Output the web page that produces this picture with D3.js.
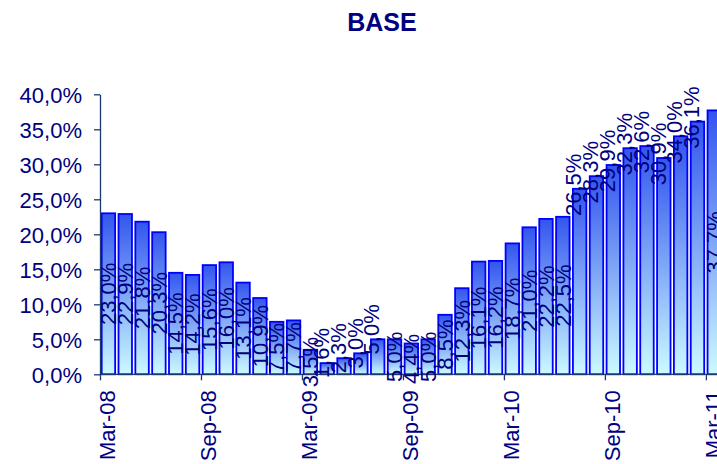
<!DOCTYPE html>
<html>
<head>
<meta charset="utf-8">
<script src="https://cdn.jsdelivr.net/npm/d3@7"></script>
<style>
  body { margin: 0; background: #fff; }
  svg { display: block; }
</style>
</head>
<body>
<div id="chart"></div>
<script>
// Monthly categories, Mar-08 .. Mar-11
const months = [
    "Mar-08", "Apr-08", "May-08", "Jun-08", "Jul-08", "Aug-08", "Sep-08", "Oct-08", "Nov-08", "Dec-08",
    "Jan-09", "Feb-09", "Mar-09", "Apr-09", "May-09", "Jun-09", "Jul-09", "Aug-09", "Sep-09", "Oct-09",
    "Nov-09", "Dec-09", "Jan-10", "Feb-10", "Mar-10", "Apr-10", "May-10", "Jun-10", "Jul-10", "Aug-10",
    "Sep-10", "Oct-10", "Nov-10", "Dec-10", "Jan-11", "Feb-11", "Mar-11"
];

// Values in percent
const values = [
    23.0, 22.9, 21.8, 20.3, 14.5, 14.2, 15.6, 16.0, 13.1, 10.9,
    7.5, 7.7, 3.5, 1.6, 2.3, 3.0, 5.0, 5.0, 4.4, 5.0,
    8.5, 12.3, 16.1, 16.2, 18.7, 21.0, 22.2, 22.5, 26.5, 28.3,
    29.9, 32.3, 32.6, 30.9, 34.0, 36.1, 37.7
];

// Axis tick labels
const xTickLabels = ["Mar-08", "Sep-08", "Mar-09", "Sep-09", "Mar-10", "Sep-10", "Mar-11"];
const yTickValues = [0, 5, 10, 15, 20, 25, 30, 35, 40];

const title = "BASE";

function createBarChart(months, values, dims, d3) {
    const { width, height, left, top, bottom, step } = dims;

    const navy = "#000080";
    const axisColor = "#1c3a6e";
    const fmt = v => v.toFixed(1).replace(".", ",") + "%";

    const svg = d3.create("svg")
        .attr("width", width)
        .attr("height", height)
        .attr("viewBox", [0, 0, width, height])
        .style("font-family", "'Liberation Sans', Arial, sans-serif");

    svg.append("rect").attr("width", width).attr("height", height).attr("fill", "#fff");

    // per-bar vertical gradient, blue on top fading to light cyan
    const grad = svg.append("defs").append("linearGradient")
        .attr("id", "barGrad")
        .attr("x1", 0).attr("y1", 0).attr("x2", 0).attr("y2", 1);
    grad.append("stop").attr("offset", 0).attr("stop-color", "#3355ee");
    grad.append("stop").attr("offset", 1).attr("stop-color", "#ccfaff");

    // band scale for bars (chart runs off the right edge like the original)
    const x = d3.scaleBand()
        .domain(months)
        .range([left, left + months.length * step])
        .paddingInner(0.2)
        .paddingOuter(0.1);

    // tick marks sit on the left edge of each month
    const xTick = d3.scalePoint()
        .domain(months)
        .range([left, left + (months.length - 1) * step]);

    const y = d3.scaleLinear()
        .domain([0, 40])
        .range([bottom, top]);

    // title
    svg.append("text")
        .attr("x", 382)
        .attr("y", 31)
        .attr("text-anchor", "middle")
        .attr("fill", navy)
        .style("font-size", "25px")
        .style("font-weight", "bold")
        .text(title);

    // bars
    svg.append("g")
        .selectAll("rect")
        .data(values)
        .join("rect")
        .attr("x", (d, i) => x(months[i]))
        .attr("y", d => y(d))
        .attr("width", x.bandwidth())
        .attr("height", d => y(0) - y(d))
        .attr("fill", "url(#barGrad)")
        .attr("stroke", "#0000ff")
        .attr("stroke-width", 1.8);

    // y axis
    const gy = svg.append("g")
        .attr("transform", `translate(${left},0)`)
        .call(d3.axisLeft(y).tickValues(yTickValues).tickFormat(fmt).tickSize(6).tickSizeOuter(0));
    gy.select(".domain").attr("stroke", axisColor).attr("stroke-width", 1.3);
    gy.selectAll(".tick line").attr("stroke", axisColor).attr("stroke-width", 1.3);
    gy.selectAll(".tick text")
        .attr("x", -18)
        .attr("dy", "0.35em")
        .attr("fill", navy)
        .style("font-size", "22px")
        .style("font-family", "'Liberation Sans', Arial, sans-serif");

    // x axis
    const gx = svg.append("g")
        .attr("transform", `translate(0,${bottom})`)
        .call(d3.axisBottom(xTick).tickValues(xTickLabels).tickSize(6).tickSizeOuter(0));
    gx.select(".domain")
        .attr("d", `M${left},0H${left + months.length * step}`)
        .attr("stroke", axisColor).attr("stroke-width", 1.3);
    gx.selectAll(".tick line").attr("stroke", axisColor).attr("stroke-width", 1.3);
    gx.selectAll(".tick text")
        .attr("transform", "rotate(-90)")
        .attr("text-anchor", "end")
        .attr("x", -16)
        .attr("y", 7)
        .attr("dy", "0.35em")
        .attr("fill", navy)
        .style("font-size", "22px")
        .style("font-family", "'Liberation Sans', Arial, sans-serif");

    // data labels: most sit centred in the bar, some ride above it
    const above = new Set([13, 14, 15, 16, 28, 29, 30, 31, 32, 33, 34, 35]);
    const labels = svg.append("g")
        .selectAll("text")
        .data(values)
        .join("text")
        .attr("fill", navy)
        .style("font-size", "22px")
        .attr("dy", "0.35em")
        .text(fmt);

    labels.each(function (d, i) {
        const len = this.getComputedTextLength();
        const cx = x(months[i]) + x.bandwidth() / 2;
        let cy;
        let dx = 0;
        if (above.has(i)) {
            const gap = i < 20 ? 10 : 4;
            cy = y(d) - gap - len / 2;
            dx = -6;
        } else {
            cy = Math.min(y(d / 2), bottom - 1 - len / 2);
        }
        d3.select(this)
            .attr("text-anchor", "middle")
            .attr("transform", `translate(${cx + dx},${cy}) rotate(-90)`);
    });

    return svg.node();
}

const chart = createBarChart(months, values, {
    width: 717,
    height: 464,
    left: 100,
    top: 94.3,
    bottom: 374.3,
    step: 16.83
}, d3);

document.getElementById("chart").appendChild(chart);
</script>
</body>
</html>
